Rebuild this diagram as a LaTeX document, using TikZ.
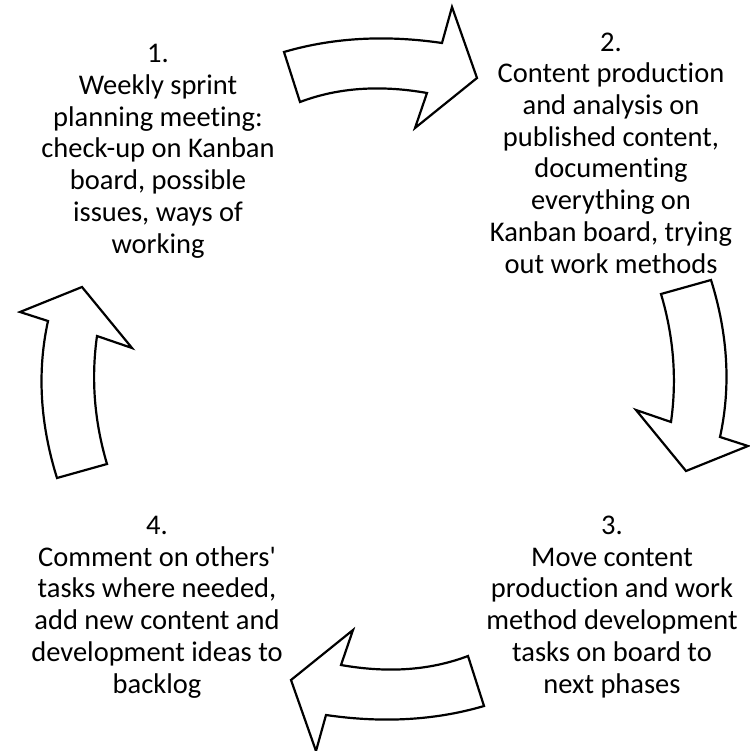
\documentclass[tikz,border=0pt]{standalone}
\usepackage{fontspec}
\setmainfont{Carlito}[Ligatures={NoCommon}]
\usepackage{tikz}
\usetikzlibrary{positioning,calc}

\begin{document}
\begin{tikzpicture}[x=1pt, y=-1pt,
    steptext/.style={align=center, inner sep=0pt, anchor=base,
        font=\fontsize{28.5}{31.7}\selectfont},
    blockarrow/.style={draw=black, fill=white, line width=2.2pt, line join=miter}]
    \useasboundingbox (0,0) rectangle (749,751);

    % Steps (placed by the baseline of their last line)
    \node[steptext] (s1) at (158,253) {1.\\Weekly sprint\\planning meeting:\\check-up on Kanban\\board, possible\\issues, ways of\\working};
    \node[steptext] (s2) at (611,273) {2.\\Content production\\and analysis on\\published content,\\documenting\\everything on\\Kanban board, trying\\out work methods};
    \node[steptext] (s3) at (612,693) {3.\\Move content\\production and work\\method development\\tasks on board to\\next phases};
    \node[steptext] (s4) at (157,693) {4.\\Comment on others\textquotesingle\\tasks where needed,\\add new content and\\development ideas to\\backlog};

    % Arrows 1 -> 2 and 3 -> 4
    \foreach \ang in {0,180} {
        \draw[blockarrow, rotate around={\ang:(384,379)}]
            (284,52) .. controls (332.7,37.7) and (385.3,34.7) .. (442,43)
            -- (452,7) -- (477,78) -- (415,128) -- (427,93)
            .. controls (380,84.7) and (337.7,87.7) .. (300,102) -- cycle;
    }

    % Arrows 2 -> 3 and 4 -> 1
    \foreach \ang in {0,180} {
        \draw[blockarrow, rotate around={\ang:(384,379)}]
            (661,294) -- (711,280)
            .. controls (728,334.3) and (731,386.7) .. (720,437)
            -- (748,446) -- (686,471) -- (636,410) -- (671,422)
            .. controls (677,379.3) and (673.7,336.7) .. (661,294) -- cycle;
    }
\end{tikzpicture}
\end{document}
